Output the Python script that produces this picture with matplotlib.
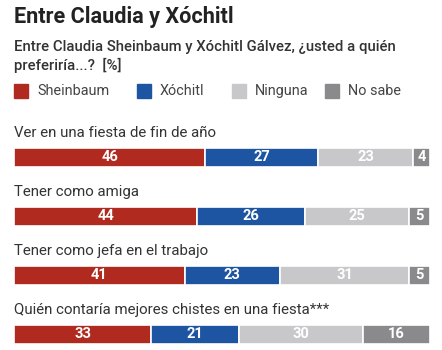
import matplotlib.pyplot as plt
from matplotlib.patches import Rectangle

plt.rcParams['font.family'] = ['Roboto', 'DejaVu Sans']

# data
preguntas = ['Ver en una fiesta de fin de año',
             'Tener como amiga',
             'Tener como jefa en el trabajo',
             'Quién contaría mejores chistes en una fiesta***']
sheinbaum = [46, 44, 41, 33]
xochitl = [27, 26, 23, 21]
ninguna = [23, 25, 31, 30]
no_sabe = [4, 5, 5, 16]
series = ['Sheinbaum', 'Xóchitl', 'Ninguna', 'No sabe']

colores = ['#b02a20', '#1d55a3', '#c8c8ca', '#8a8a8d']
W, H = 442, 350

fig = plt.figure(figsize=(W / 100, H / 100), dpi=100)
fig.patch.set_facecolor('white')

# header
fig.text(14 / W, 1 - 17 / H, 'Entre Claudia y Xóchitl', fontsize=15.6, fontweight='bold',
         color='#222222', va='center', ha='left')
fig.text(14 / W, 1 - 47 / H, 'Entre Claudia Sheinbaum y Xóchitl Gálvez, ¿usted a quién',
         fontsize=10.7, fontweight='medium', color='#333333', va='center', ha='left')
fig.text(14 / W, 1 - 65 / H, 'preferiría...?  [%]',
         fontsize=10.7, fontweight='medium', color='#333333', va='center', ha='left')

# legend
leg_x = [14, 137, 232, 325]
for x, c, s in zip(leg_x, colores, series):
    fig.patches.append(Rectangle((x / W, 1 - 98 / H), 14 / W, 14 / H, color=c,
                                 transform=fig.transFigure, figure=fig))
    fig.text((x + 23) / W, 1 - 91 / H, s, fontsize=10.4,
             color='#444444', va='center', ha='left')

# bars
ax = fig.add_axes([14 / W, 0, 416 / W, 240 / H])
ax.set_xlim(0, 100)
ax.set_ylim(3.263, -0.805)
ax.axis('off')

filas = list(range(len(preguntas)))
left = [0] * len(preguntas)
for vals, c in zip([sheinbaum, xochitl, ninguna, no_sabe], colores):
    ax.barh(filas, vals, left=left, height=0.31, color=c, edgecolor='white', linewidth=1.2)
    for i, v in enumerate(vals):
        ax.text(left[i] + v / 2, i, str(v), ha='center', va='center', color='white',
                fontsize=10.5, fontweight='bold')
    left = [l + v for l, v in zip(left, vals)]

for i, p in enumerate(preguntas):
    ax.text(0, i - 0.42, p, ha='left', va='center', fontsize=10.8,
            color='#333333')

fig.savefig('out.png', dpi=100)
